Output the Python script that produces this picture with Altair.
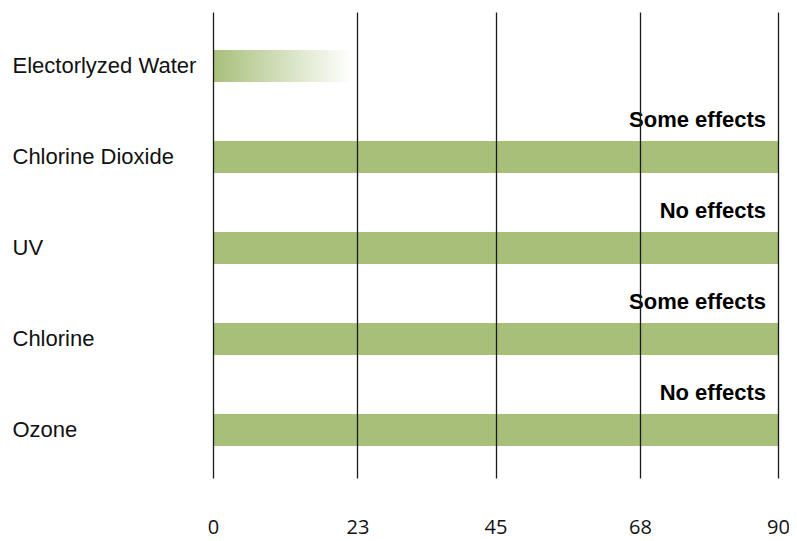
import altair as alt
import pandas as pd

categories = ["Electorlyzed Water", "Chlorine Dioxide", "UV", "Chlorine", "Ozone"]
values = [22, 90, 90, 90, 90]
notes = ["", "Some effects", "No effects", "Some effects", "No effects"]
ticks = [0, 23, 45, 68, 90]

df = pd.DataFrame({"method": categories, "value": values, "note": notes})

green = "#a8bf7a"

y = alt.Y(
    "method:N",
    sort=categories,
    title=None,
    scale=alt.Scale(paddingInner=0, paddingOuter=0.06, align=0.77),
    axis=alt.Axis(
        labelAlign="left",
        labelPadding=201,
        labelBaseline="middle",
        ticks=False,
        domain=False,
        grid=False,
        labelFont="Liberation Sans",
        labelFontSize=22,
        labelColor="#111111",
        labelLimit=0,
    ),
)
x = alt.X(
    "value:Q",
    title=None,
    scale=alt.Scale(domain=[0, 90], nice=False),
    axis=alt.Axis(
        values=ticks,
        grid=True,
        gridColor="#1a1a1a",
        gridWidth=1.3,
        ticks=False,
        domain=False,
        labelFlush=False,
        labelPadding=39,
        labelFont="Open Sans",
        labelFontSize=20,
        labelColor="#111111",
        zindex=1,
    ),
)

base = alt.Chart(df)

solid = base.transform_filter(alt.datum.method != categories[0]).mark_bar(
    size=32, color=green
).encode(x=x, y=y)

grad = base.transform_filter(alt.datum.method == categories[0]).mark_bar(
    size=32,
    color=alt.Gradient(
        gradient="linear",
        x1=0, x2=1, y1=0, y2=0,
        stops=[
            alt.GradientStop(offset=0, color=green),
            alt.GradientStop(offset=1, color="#ffffff"),
        ],
    ),
).encode(x=x, y=y)

labels = base.transform_filter(alt.datum.note != "").mark_text(
    align="right",
    baseline="middle",
    dx=-12,
    dy=-37,
    fontSize=22,
    fontWeight="bold",
    font="Liberation Sans",
    color="#000000",
).encode(x=x, y=y, text="note:N")

chart = alt.layer(solid, grad, labels).properties(
    width=565,
    height=466,
    autosize=alt.AutoSizeParams(type="none"),
    padding={"left": 205, "top": 4, "right": 11, "bottom": 62},
    background="white",
).configure_view(stroke=None)

chart.save("out.html", embed_options={"renderer": "svg", "actions": False})
